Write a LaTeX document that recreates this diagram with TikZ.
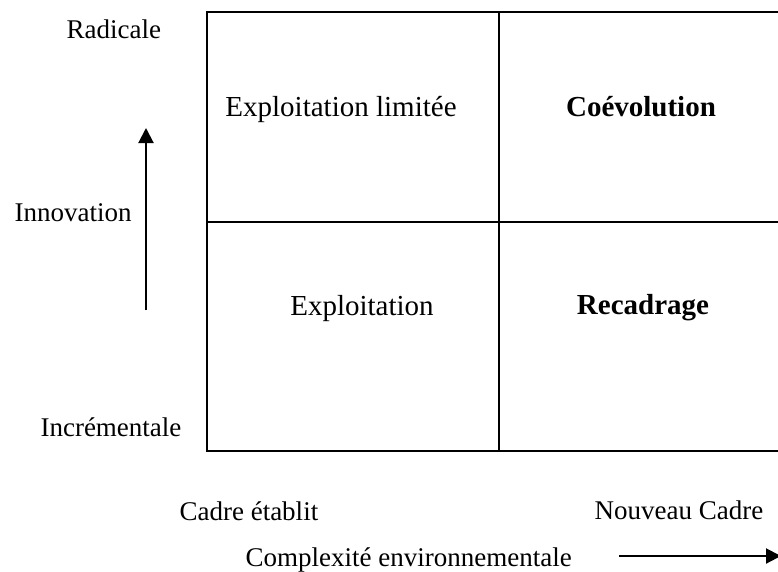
\documentclass[tikz,border=0pt]{standalone}
\usepackage{fontspec}
\setmainfont{Liberation Serif}
\usetikzlibrary{arrows.meta}

\begin{document}
\begin{tikzpicture}[x=1pt, y=-1pt,
    cell/.style={anchor=base, font=\fontsize{29}{35}\selectfont},
    axislabel/.style={anchor=base west, font=\fontsize{27}{32}\selectfont},
    axis/.style={-{Triangle[length=15pt,width=15pt]}, line width=2pt}]
        \useasboundingbox (0,0) rectangle (778,571);
        \clip (0,0) rectangle (778,571);
        % grille
        \draw[line width=1.6pt] (790,12) -- (207,12) -- (207,451) -- (790,451);
        \draw[line width=1.3pt] (499,12) -- (499,451) (207,222) -- (790,222);
        \node[cell] (limitee) at (341,116) {Exploitation limitée};
        \node[cell] (coevol) at (641,116) {\bfseries Coévolution};
        \node[cell] (exploit) at (362,315) {Exploitation};
        \node[cell] (recadr) at (643,314) {\bfseries Recadrage};
        % axe innovation
        \node[axislabel] (radicale) at (63,38) {Radicale};
        \node[axislabel] (innovation) at (11,221) {Innovation};
        \node[axislabel] (increm) at (37,436) {Incrémentale};
        \coordinate (innovbas) at (146,310);
        \coordinate (innovhaut) at (146,128);
        \draw[axis] (innovbas) -- (innovhaut);
        % axe complexite
        \node[axislabel] (etabli) at (176,520) {Cadre établit};
        \node[axislabel] (nouveau) at (591,519) {Nouveau Cadre};
        \node[axislabel] (complex) at (242,566) {Complexité environnementale};
        \coordinate (complexg) at (619,556);
        \coordinate (complexd) at (781,556);
        \draw[axis] (complexg) -- (complexd);
    \end{tikzpicture}
\end{document}
